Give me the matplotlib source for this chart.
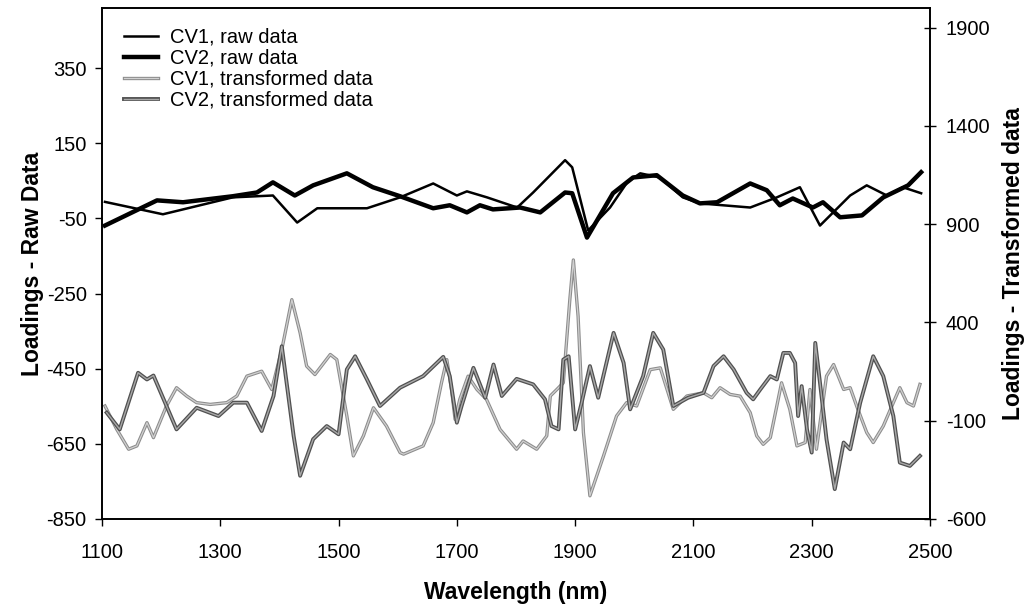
import matplotlib
matplotlib.use("Agg")
import matplotlib.pyplot as plt
import matplotlib.patheffects as pe

plt.rcParams['font.family'] = ['Liberation Sans', 'DejaVu Sans']
plt.rcParams['axes.unicode_minus'] = False

# ---- data ----
cv1_raw_x = [1105, 1203, 1321, 1389, 1430, 1464, 1548, 1604, 1660, 1700, 1717, 1751, 1802,
             1829, 1883, 1895, 1922, 1959, 1988, 2010, 2043, 2082, 2111, 2196, 2241, 2280,
             2314, 2365, 2393, 2427, 2454, 2485]
cv1_raw_y = [-6, -39, 6, 11, -61, -23, -23, 6, 43, 11, 22, 6, -21,
             19, 105, 86, -82, -21, 46, 70, 59, 6, -10, -21, 6, 33,
             -69, 11, 38, 11, 33, 17]

cv2_raw_x = [1105, 1193, 1237, 1321, 1362, 1389, 1426, 1457, 1514, 1558, 1604, 1660, 1688,
             1717, 1739, 1761, 1807, 1841, 1883, 1895, 1920, 1964, 1998, 2038, 2082, 2111,
             2140, 2196, 2224, 2246, 2268, 2302, 2319, 2348, 2385, 2421, 2463, 2485]
cv2_raw_y = [-69, -2, -7, 9, 19, 46, 11, 38, 70, 33, 9, -23, -15,
             -34, -15, -26, -21, -34, 19, 17, -101, 17, 59, 65, 11, -10,
             -7, 43, 25, -15, 3, -21, -7, -47, -42, 6, 38, 73]

cv1_tr_x = [1105, 1125, 1145, 1159, 1176, 1187, 1209, 1226, 1243, 1260, 1283, 1311, 1328,
            1345, 1370, 1387, 1404, 1421, 1435, 1446, 1460, 1486, 1497, 1514, 1525, 1542,
            1559, 1581, 1604, 1610, 1643, 1660, 1674, 1683, 1691, 1697, 1705, 1719, 1734,
            1750, 1773, 1801, 1812, 1835, 1852, 1858, 1869, 1880, 1891, 1897, 1905, 1914,
            1925, 1948, 1970, 1987, 2004, 2027, 2044, 2066, 2089, 2117, 2131, 2145, 2162,
            2179, 2196, 2207, 2218, 2230, 2241, 2249, 2263, 2275, 2289, 2297, 2308, 2325,
            2337, 2354, 2365, 2376, 2393, 2404, 2421, 2438, 2449, 2461, 2472, 2483]
cv1_tr_y = [-25, -144, -245, -228, -110, -186, -25, 68, 26, -8, -17, -8, 26,
            127, 152, 59, 262, 516, 347, 178, 135, 237, 211, -76, -279, -177,
            -34, -127, -262, -270, -228, -110, 93, 211, 59, -93, 9, 127, 59,
            9, -144, -245, -203, -245, -177, 26, 59, 93, 516, 718, 431, -160,
            -482, -279, -76, -8, -25, 160, 169, -42, 26, 42, 17, 68, 34,
            25, -59, -177, -220, -186, -25, 93, -42, -228, -211, 59, -245, 127,
            186, 59, 68, -25, -160, -211, -127, -8, 68, -8, -25, 85]

cv2_tr_x = [1108, 1130, 1161, 1176, 1187, 1226, 1260, 1297, 1322, 1345, 1370, 1390, 1404,
            1424, 1435, 1457, 1480, 1500, 1514, 1528, 1548, 1570, 1604, 1643, 1677, 1688,
            1700, 1708, 1728, 1748, 1762, 1776, 1801, 1829, 1849, 1860, 1872, 1880, 1889,
            1900, 1911, 1925, 1939, 1965, 1982, 1993, 2015, 2032, 2049, 2066, 2091, 2117,
            2134, 2151, 2168, 2190, 2201, 2213, 2230, 2241, 2252, 2263, 2272, 2277, 2283,
            2292, 2300, 2306, 2314, 2325, 2339, 2354, 2365, 2382, 2404, 2421, 2438, 2449,
            2466, 2483]
cv2_tr_y = [-59, -144, 144, 110, 130, -144, -34, -76, -8, -8, -152, 26, 279,
            -177, -380, -194, -127, -169, 161, 228, 110, -25, 68, 127, 225, 127,
            -110, -25, 169, 17, 186, 26, 113, 85, 9, -127, -144, 211, 228,
            -144, -8, 178, 17, 347, 194, -42, 127, 347, 262, -25, 17, 42,
            178, 228, 161, 42, 9, 59, 127, 110, 245, 245, 194, -76, 76,
            -144, -262, 296, 93, -194, -448, -211, -245, -8, 228, 127, -76, -313,
            -330, -279]

x_ticks = [1100, 1300, 1500, 1700, 1900, 2100, 2300, 2500]
left_ticks = [-850, -650, -450, -250, -50, 150, 350]
right_ticks = [-600, -100, 400, 900, 1400, 1900]

# ---- figure ----
fig = plt.figure(figsize=(10.30, 6.12), dpi=100)
ax = fig.add_axes([102/1030, 1 - 519/612, (930-102)/1030, (519-8)/612])
ax2 = ax.twinx()

l1, = ax.plot(cv1_raw_x, cv1_raw_y, color='black', lw=1.8, label='CV1, raw data', zorder=5,
              solid_joinstyle='round')
l2, = ax.plot(cv2_raw_x, cv2_raw_y, color='black', lw=3.2, label='CV2, raw data', zorder=5,
              solid_joinstyle='round')

l3, = ax2.plot(cv1_tr_x, cv1_tr_y, color='#d0d0d0', lw=0.9, label='CV1, transformed data',
               path_effects=[pe.Stroke(linewidth=2.4, foreground='#8c8c8c'), pe.Normal()])
l4, = ax2.plot(cv2_tr_x, cv2_tr_y, color='#a8a8a8', lw=1.0, label='CV2, transformed data',
               path_effects=[pe.Stroke(linewidth=2.8, foreground='#505050'), pe.Normal()])

ax.set_xlim(1100, 2500)
ax.set_ylim(-850, 510)
ax2.set_ylim(-600, 2000)

ax.set_xticks(x_ticks)
ax.set_yticks(left_ticks)
ax2.set_yticks(right_ticks)

ax.tick_params(axis='x', direction='out', length=5, width=1, pad=12, labelsize=14.5)
ax.tick_params(axis='y', direction='out', length=5, width=1, pad=6, labelsize=14.5)
ax2.tick_params(axis='y', direction='inout', length=9, width=1, pad=7, labelsize=14.5)

for a in (ax, ax2):
    for s in a.spines.values():
        s.set_linewidth(1.2)
        s.set_color('black')

ax.set_xlabel('Wavelength (nm)', fontsize=16.5, fontweight='bold', labelpad=14)
ax.set_ylabel('Loadings - Raw Data', fontsize=16.5, fontweight='bold', labelpad=2)
ax2.set_ylabel('Loadings - Transformed data', fontsize=16.5, fontweight='bold', labelpad=8)

leg = ax.legend(handles=[l1, l2, l3, l4], loc='upper left', frameon=False,
                fontsize=14.5, handlelength=1.7, labelspacing=0.1,
                bbox_to_anchor=(0.012, 0.985), borderaxespad=0.2, handletextpad=0.6)

fig.savefig('out.png', dpi=100)
